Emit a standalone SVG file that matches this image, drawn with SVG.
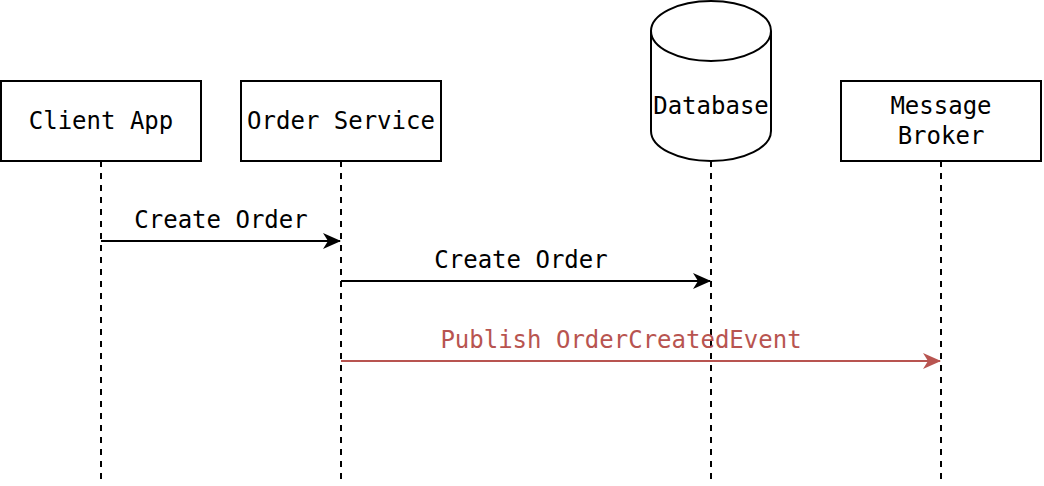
<svg xmlns="http://www.w3.org/2000/svg" width="1044" height="486" viewBox="0 0 1044 486">
<defs>
<style>
.box{fill:#fff;stroke:#000;stroke-width:2}
.life{stroke:#000;stroke-width:2;stroke-dasharray:6 6;fill:none}
.msg{stroke:#000;stroke-width:2;fill:none}
.red{stroke:#b85450}
text{font-family:"DejaVu Sans Mono","Liberation Mono",monospace;font-size:24px;text-anchor:middle;dominant-baseline:central;fill:#000}
.rt{fill:#b85450}
</style>
<marker id="ah" viewBox="0 0 18 16" refX="17" refY="8" markerWidth="18" markerHeight="16" markerUnits="userSpaceOnUse" orient="auto">
<path d="M0,0 L18,8 L0,16 L5,8 Z" fill="#000"/>
</marker>
<marker id="ahr" viewBox="0 0 18 16" refX="17" refY="8" markerWidth="18" markerHeight="16" markerUnits="userSpaceOnUse" orient="auto">
<path d="M0,0 L18,8 L0,16 L5,8 Z" fill="#b85450"/>
</marker>
</defs>
<rect width="1044" height="486" fill="#fff"/>
<g id="lifelines">
<line class="life" x1="101" y1="161" x2="101" y2="480"/>
<line class="life" x1="341" y1="161" x2="341" y2="480"/>
<line class="life" x1="711" y1="161" x2="711" y2="480"/>
<line class="life" x1="941" y1="161" x2="941" y2="480"/>
</g>
<g id="client">
<rect class="box" x="1" y="81" width="200" height="80"/>
<text x="101" y="121">Client App</text>
</g>
<g id="order">
<rect class="box" x="241" y="81" width="200" height="80"/>
<text x="341" y="121">Order Service</text>
</g>
<g id="database">
<path class="box" d="M651,31 A60,30 0 0 1 771,31 L771,131 A60,30 0 0 1 651,131 Z"/>
<path class="box" fill="none" d="M651,31 A60,30 0 0 0 771,31"/>
<text x="711" y="106">Database</text>
</g>
<g id="broker">
<rect class="box" x="841" y="81" width="200" height="80"/>
<text x="941" y="106">Message</text>
<text x="941" y="136">Broker</text>
</g>
<g id="connectors">
<line class="msg" x1="101" y1="241" x2="340" y2="241" marker-end="url(#ah)"/>
<text x="221" y="220">Create Order</text>
<line class="msg" x1="341" y1="281" x2="710" y2="281" marker-end="url(#ah)"/>
<text x="521" y="260">Create Order</text>
<line class="msg red" x1="341" y1="361" x2="940" y2="361" marker-end="url(#ahr)"/>
<text class="rt" x="621" y="340">Publish OrderCreatedEvent</text>
</g>
</svg>
